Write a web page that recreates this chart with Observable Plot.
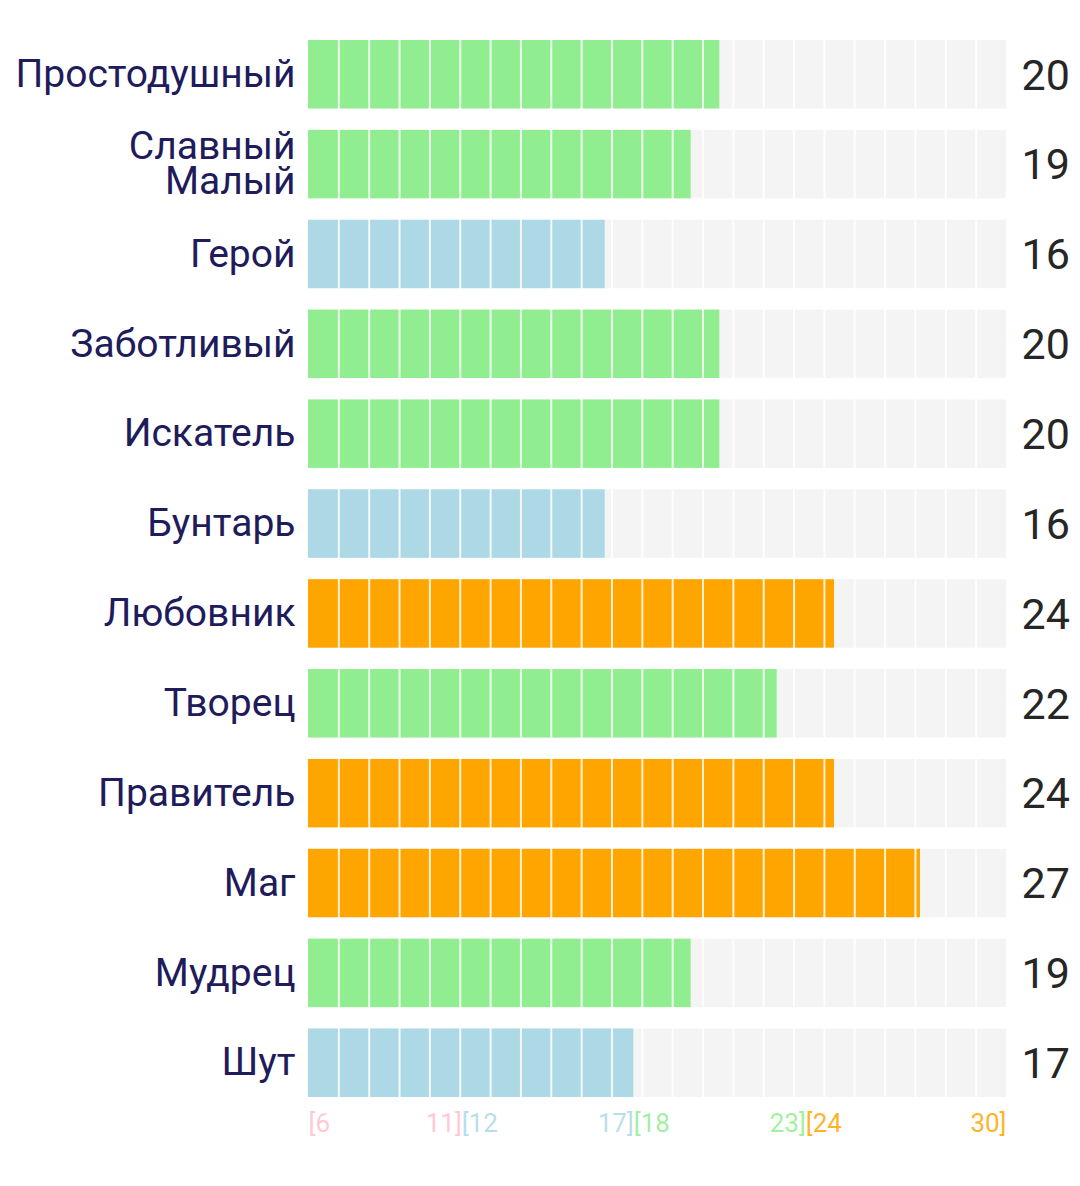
<!DOCTYPE html>
<html>
<head>
<meta charset="utf-8">
<script src="https://cdn.jsdelivr.net/npm/d3@7"></script>
<script src="https://cdn.jsdelivr.net/npm/@observablehq/plot@0.6"></script>
<style>
  html, body { margin: 0; padding: 0; background: #ffffff; }
  #chart svg { display: block; }
</style>
</head>
<body>
<div id="chart"></div>
<script>
// ---- data ----
const categories = ["Простодушный", "Славный\nМалый", "Герой", "Заботливый", "Искатель", "Бунтарь", "Любовник", "Творец", "Правитель", "Маг", "Мудрец", "Шут"];
const values = [20, 19, 16, 20, 20, 16, 24, 22, 24, 27, 19, 17];
const rangeStarts = [6, 12, 18, 24];
const rangeEnds = [11, 17, 23, 30];
const rangeColors = ["pink", "lightblue", "lightgreen", "orange"];
const domainMin = 5.65;
const domainMax = 30;
const gridCells = 23;

// ---- derived tables ----
const rows = categories.map((c, i) => ({cat: c, value: values[i]}));
const gridValues = d3.range(1, gridCells).map(i => domainMin + i * (domainMax - domainMin) / gridCells);
const rangeLabels = [];
rangeStarts.forEach((s, i) => {
  rangeLabels.push({x: i === 0 ? domainMin : rangeEnds[i - 1], text: "[" + s, anchor: "start", color: rangeColors[i]});
  rangeLabels.push({x: rangeEnds[i], text: rangeEnds[i] + "]", anchor: "end", color: rangeColors[i]});
});

const chart = Plot.plot({
  width: 1080,
  height: 1186,
  marginLeft: 308,
  marginRight: 74,
  marginTop: 40,
  marginBottom: 89,
  style: {fontFamily: "Roboto, sans-serif", background: "#ffffff"},
  x: {domain: [domainMin, domainMax], axis: null},
  y: {domain: categories, axis: null, paddingInner: 0.238, paddingOuter: 0, round: false},
  color: {type: "threshold", domain: [12, 18, 24], range: rangeColors},
  marks: [
    Plot.barX(rows, {y: "cat", x1: domainMin, x2: domainMax, fill: "#f4f4f4"}),
    Plot.barX(rows, {y: "cat", x1: domainMin, x2: "value", fill: d => d.value}),
    Plot.ruleX(gridValues, {x: d => d, stroke: "#ffffff", strokeWidth: 2, strokeOpacity: 0.85}),
    Plot.text(rows, {y: "cat", x: domainMin, text: "cat", textAnchor: "end", dx: -13, dy: 1, fontSize: 39, lineHeight: 0.9, fill: "#201b5b"}),
    Plot.text(rows, {y: "cat", x: domainMax, text: d => String(d.value), textAnchor: "start", dx: 15, dy: 1, fontSize: 43, fill: "#262626"}),
    Plot.text(rangeLabels.filter(d => d.anchor === "start"), {x: "x", text: "text", textAnchor: "start", frameAnchor: "bottom", lineAnchor: "middle", dy: 26, fontSize: 26, fill: "color", fillOpacity: 0.85}),
    Plot.text(rangeLabels.filter(d => d.anchor === "end"), {x: "x", text: "text", textAnchor: "end", frameAnchor: "bottom", lineAnchor: "middle", dy: 26, fontSize: 26, fill: "color", fillOpacity: 0.85})
  ]
});
document.getElementById("chart").appendChild(chart);
</script>
</body>
</html>
